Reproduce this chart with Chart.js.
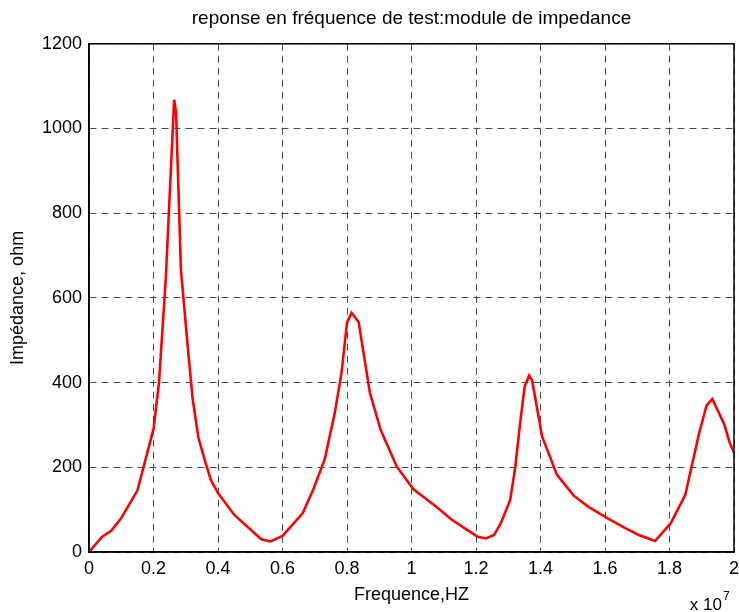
<!DOCTYPE html>
<html>
<head>
<meta charset="utf-8">
<script src="https://cdn.jsdelivr.net/npm/chart.js@4"></script>
<style>
    html, body { margin: 0; padding: 0; background: #fff; }
    #wrap { width: 739px; height: 612px; }
</style>
</head>
<body>
<div id="wrap"><canvas id="impChart" width="739" height="612"></canvas></div>
<script>
    // frequence en unites de 1e7 Hz
    const freq = [0, 0.041, 0.069, 0.1, 0.15, 0.2, 0.217, 0.238, 0.264, 0.27, 0.285, 0.306, 0.321, 0.339, 0.36, 0.378,
        0.4, 0.45, 0.534, 0.563, 0.6, 0.663, 0.695, 0.731, 0.762, 0.783, 0.8, 0.814, 0.836, 0.871, 0.904, 0.954,
        1.006, 1.073, 1.125, 1.177, 1.205, 1.231, 1.256, 1.277, 1.306, 1.322, 1.337, 1.351, 1.365, 1.374, 1.405,
        1.451, 1.503, 1.55, 1.607, 1.654, 1.705, 1.755, 1.804, 1.849, 1.871, 1.892, 1.915, 1.933, 1.97, 1.987, 2.0];
    const impedance = [0, 36, 50, 80, 145, 290, 400, 644, 1068, 1038, 667, 486, 364, 271, 214, 170,
        139, 88, 30, 25, 38, 92, 147, 219, 328, 423, 541, 565, 543, 376, 289, 202,
        148, 109, 76, 50, 36, 32, 40, 68, 123, 202, 305, 391, 417, 405, 273,
        182, 133, 106, 80, 60, 40, 26, 68, 135, 210, 281, 346, 361, 301, 257, 235];
    const xTicks = [0, 0.2, 0.4, 0.6, 0.8, 1, 1.2, 1.4, 1.6, 1.8, 2];
    const yTicks = [0, 200, 400, 600, 800, 1000, 1200];

    const points = [];
    for (let i = 0; i < freq.length; i++) {
        points.push({ x: freq[i], y: impedance[i] });
    }

    const fontFamily = '"Liberation Sans", Arial, Helvetica, sans-serif';

    // cadre complet et "x 10^7"
    const boxPlugin = {
        id: 'boxPlugin',
        afterDatasetsDraw(chart) {
            const ctx = chart.ctx;
            const a = chart.chartArea;
            ctx.save();
            ctx.strokeStyle = '#000';
            ctx.lineWidth = 1.5;
            ctx.setLineDash([]);
            ctx.strokeRect(a.left, a.top, a.right - a.left, a.bottom - a.top);
            ctx.fillStyle = '#000';
            ctx.textBaseline = 'alphabetic';
            ctx.textAlign = 'right';
            ctx.font = '17px ' + fontFamily;
            ctx.fillText('x 10', 722, 610);
            ctx.textAlign = 'left';
            ctx.font = '12px ' + fontFamily;
            ctx.fillText('7', 723, 600);
            ctx.restore();
        }
    };

    const ctx = document.getElementById('impChart').getContext('2d');

    new Chart(ctx, {
        type: 'line',
        data: {
            datasets: [{
                label: 'Impédance',
                data: points,
                borderColor: '#ff0000',
                borderWidth: 2.6,
                pointRadius: 0,
                tension: 0,
                fill: false
            }]
        },
        options: {
            responsive: false,
            animation: false,
            layout: { padding: { left: 0, right: 5, top: 0, bottom: 0 } },
            plugins: {
                legend: { display: false },
                tooltip: { enabled: false },
                title: {
                    display: true,
                    fullSize: false,
                    text: 'reponse en fréquence de test:module de impedance',
                    color: '#000',
                    font: { family: fontFamily, size: 19, weight: 'normal' },
                    padding: { top: 7, bottom: 14 }
                }
            },
            scales: {
                x: {
                    type: 'linear',
                    min: 0,
                    max: 2,
                    afterFit: function (scale) {
                        scale.height = 60;
                        scale.paddingLeft = 0;
                        scale.paddingRight = 0;
                    },
                    afterBuildTicks: function (scale) {
                        scale.ticks = xTicks.map(function (v) { return { value: v }; });
                    },
                    ticks: {
                        color: '#000',
                        font: { family: fontFamily, size: 18 },
                        padding: 6,
                        maxRotation: 0,
                        autoSkip: false,
                        callback: function (v) { return String(v); }
                    },
                    grid: {
                        color: '#4a4a4a',
                        lineWidth: 1,
                        tickLength: 0,
                        drawTicks: false
                    },
                    border: { color: '#000', width: 1.5, dash: [7, 5] },
                    title: {
                        display: true,
                        text: 'Frequence,HZ',
                        color: '#000',
                        font: { family: fontFamily, size: 18 },
                        padding: { top: 0, bottom: 6 }
                    }
                },
                y: {
                    min: 0,
                    max: 1200,
                    afterFit: function (scale) {
                        scale.width = 89;
                        scale.paddingTop = 0;
                        scale.paddingBottom = 0;
                    },
                    afterBuildTicks: function (scale) {
                        scale.ticks = yTicks.map(function (v) { return { value: v }; });
                    },
                    ticks: {
                        color: '#000',
                        font: { family: fontFamily, size: 18 },
                        padding: 7,
                        callback: function (v) { return String(v); }
                    },
                    grid: {
                        color: '#4a4a4a',
                        lineWidth: 1,
                        tickLength: 0,
                        drawTicks: false
                    },
                    border: { color: '#000', width: 1.5, dash: [7, 5] },
                    title: {
                        display: true,
                        text: 'Impédance, ohm',
                        color: '#000',
                        font: { family: fontFamily, size: 18 },
                        padding: { top: 7, bottom: 0 }
                    }
                }
            }
        },
        plugins: [boxPlugin]
    });
</script>
</body>
</html>
